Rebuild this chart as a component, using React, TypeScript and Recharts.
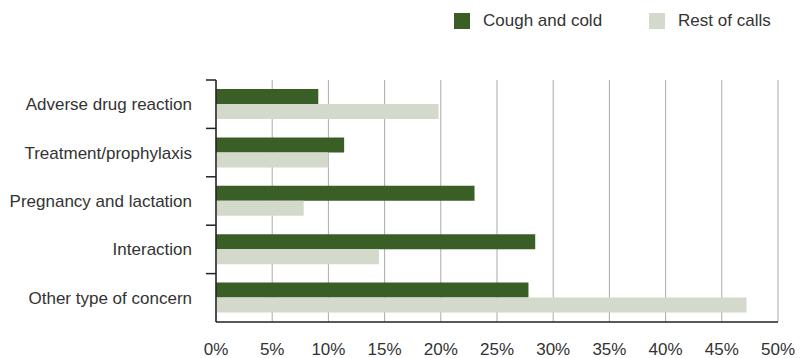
import { BarChart, Bar, XAxis, YAxis, CartesianGrid } from 'recharts';

const categories = [
  'Adverse drug reaction',
  'Treatment/prophylaxis',
  'Pregnancy and lactation',
  'Interaction',
  'Other type of concern',
];
const coughAndCold = [9.1, 11.4, 23.0, 28.4, 27.8];
const restOfCalls = [19.8, 10.0, 7.8, 14.5, 47.2];
const xTicks = [0, 5, 10, 15, 20, 25, 30, 35, 40, 45, 50];

const data = categories.map((name, i) => ({
  name,
  cough: coughAndCold[i],
  rest: restOfCalls[i],
}));

const FONT = '"Liberation Sans", Arial, sans-serif';
const DARK = '#3a5f26';
const LIGHT = '#d3dacb';
const BAND = (322 - 80) / categories.length;

const series = [
  { key: 'cough', name: 'Cough and cold', color: DARK },
  { key: 'rest', name: 'Rest of calls', color: LIGHT },
];

const YTick = ({ x, y, payload }: any) => (
  <g>
    <line x1={x + 0} x2={x + 10} y1={y - BAND / 2} y2={y - BAND / 2} stroke="#222" strokeWidth={1.5} />
    <text x={x - 14} y={y} dy="0.35em" textAnchor="end" fill="#333" fontSize={17} fontFamily={FONT}>
      {payload.value}
    </text>
  </g>
);

export default function App() {
  return (
    <div style={{ position: 'absolute', left: 0, top: 0, width: 806, height: 358, background: '#fff' }}>
      <div
        style={{
          position: 'absolute', left: 454, top: 11, display: 'flex', whiteSpace: 'nowrap',
          width: 352, fontFamily: FONT, fontSize: 17, color: '#333', zIndex: 1,
        }}
      >
        {series.map((s) => (
          <div key={s.key} style={{ display: 'flex', alignItems: 'center', marginRight: 47 }}>
            <span style={{ width: 16, height: 16, background: s.color, display: 'inline-block', marginRight: 13, flexShrink: 0 }} />
            <span>{s.name}</span>
          </div>
        ))}
      </div>
      <BarChart
        width={806}
        height={358}
        data={data}
        layout="vertical"
        margin={{ top: 80, right: 28, bottom: 0, left: 0 }}
        barGap={0}
      >
        <CartesianGrid horizontal={false} stroke="#aaa" />
        <XAxis
          type="number"
          domain={[0, 50]}
          ticks={xTicks}
          tickFormatter={(v: number) => `${v}%`}
          tickLine={false}
          tickSize={0}
          tickMargin={21}
          height={36}
          axisLine={{ stroke: '#222', strokeWidth: 1.5 }}
          tick={{ fill: '#333', fontSize: 17, fontFamily: FONT }}
        />
        <YAxis
          type="category"
          dataKey="name"
          width={216}
          tickLine={false}
          tickSize={10}
          tickMargin={0}
          axisLine={{ stroke: '#222', strokeWidth: 1.5 }}
          tick={<YTick />}
        />
        {series.map((s) => (
          <Bar key={s.key} dataKey={s.key} name={s.name} fill={s.color} barSize={15} isAnimationActive={false} />
        ))}
      </BarChart>
    </div>
  );
}
